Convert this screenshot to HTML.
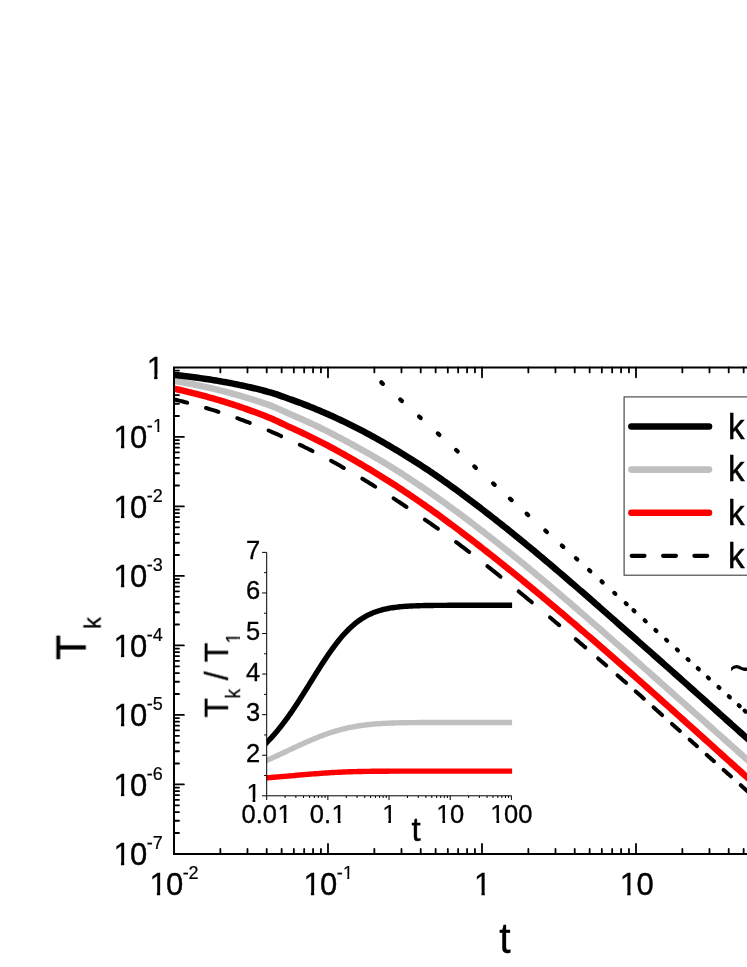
<!DOCTYPE html>
<html><head><meta charset="utf-8"><title>T_k vs t</title>
<style>html,body{margin:0;padding:0;background:#fff;width:747px;height:967px;overflow:hidden;}svg{display:block;font-family:'Liberation Sans', sans-serif;}.tx{filter:url(#gf);}</style></head>
<body><svg width="747" height="967" viewBox="0 0 747 967">
<rect width="747" height="967" fill="#fff"/>
<g>
<defs><filter id="gf" filterUnits="userSpaceOnUse" x="0" y="0" width="747" height="967" color-interpolation-filters="sRGB"><feOffset dx="0" dy="0"/></filter><clipPath id="cm"><rect x="175" y="360" width="600" height="500"/></clipPath><clipPath id="c1"><path d="M0,-85 H56 V-14 H34.8 V3 H24.2 V-14 H0 Z"/></clipPath><clipPath id="ci"><rect x="266.7" y="540" width="245.4" height="270"/></clipPath></defs>
<g stroke="#000" fill="none">
<path d="M174,854.90 V367.40 H747 M173,853.90 H747" stroke-width="2"/>
<path d="M220.36,367.40 v5.0 M220.36,853.90 v-5.0 M247.48,367.40 v5.0 M247.48,853.90 v-5.0 M266.72,367.40 v5.0 M266.72,853.90 v-5.0 M281.64,367.40 v5.0 M281.64,853.90 v-5.0 M293.84,367.40 v5.0 M293.84,853.90 v-5.0 M304.15,367.40 v5.0 M304.15,853.90 v-5.0 M313.08,367.40 v5.0 M313.08,853.90 v-5.0 M320.95,367.40 v5.0 M320.95,853.90 v-5.0 M328.00,367.40 v9.9 M328.00,853.90 v-9.9 M374.36,367.40 v5.0 M374.36,853.90 v-5.0 M401.48,367.40 v5.0 M401.48,853.90 v-5.0 M420.72,367.40 v5.0 M420.72,853.90 v-5.0 M435.64,367.40 v5.0 M435.64,853.90 v-5.0 M447.84,367.40 v5.0 M447.84,853.90 v-5.0 M458.15,367.40 v5.0 M458.15,853.90 v-5.0 M467.08,367.40 v5.0 M467.08,853.90 v-5.0 M474.95,367.40 v5.0 M474.95,853.90 v-5.0 M482.00,367.40 v9.9 M482.00,853.90 v-9.9 M528.36,367.40 v5.0 M528.36,853.90 v-5.0 M555.48,367.40 v5.0 M555.48,853.90 v-5.0 M574.72,367.40 v5.0 M574.72,853.90 v-5.0 M589.64,367.40 v5.0 M589.64,853.90 v-5.0 M601.84,367.40 v5.0 M601.84,853.90 v-5.0 M612.15,367.40 v5.0 M612.15,853.90 v-5.0 M621.08,367.40 v5.0 M621.08,853.90 v-5.0 M628.95,367.40 v5.0 M628.95,853.90 v-5.0 M636.00,367.40 v9.9 M636.00,853.90 v-9.9 M682.36,367.40 v5.0 M682.36,853.90 v-5.0 M709.48,367.40 v5.0 M709.48,853.90 v-5.0 M728.72,367.40 v5.0 M728.72,853.90 v-5.0 M743.64,367.40 v5.0 M743.64,853.90 v-5.0 M174,832.98 h5.0 M174,820.74 h5.0 M174,812.06 h5.0 M174,805.32 h5.0 M174,799.82 h5.0 M174,795.17 h5.0 M174,791.14 h5.0 M174,787.58 h5.0 M174,784.40 h9.9 M174,763.48 h5.0 M174,751.24 h5.0 M174,742.56 h5.0 M174,735.82 h5.0 M174,730.32 h5.0 M174,725.67 h5.0 M174,721.64 h5.0 M174,718.08 h5.0 M174,714.90 h9.9 M174,693.98 h5.0 M174,681.74 h5.0 M174,673.06 h5.0 M174,666.32 h5.0 M174,660.82 h5.0 M174,656.17 h5.0 M174,652.14 h5.0 M174,648.58 h5.0 M174,645.40 h9.9 M174,624.48 h5.0 M174,612.24 h5.0 M174,603.56 h5.0 M174,596.82 h5.0 M174,591.32 h5.0 M174,586.67 h5.0 M174,582.64 h5.0 M174,579.08 h5.0 M174,575.90 h9.9 M174,554.98 h5.0 M174,542.74 h5.0 M174,534.06 h5.0 M174,527.32 h5.0 M174,521.82 h5.0 M174,517.17 h5.0 M174,513.14 h5.0 M174,509.58 h5.0 M174,506.40 h9.9 M174,485.48 h5.0 M174,473.24 h5.0 M174,464.56 h5.0 M174,457.82 h5.0 M174,452.32 h5.0 M174,447.67 h5.0 M174,443.64 h5.0 M174,440.08 h5.0 M174,436.90 h9.9 M174,415.98 h5.0 M174,403.74 h5.0 M174,395.06 h5.0 M174,388.32 h5.0 M174,382.82 h5.0 M174,378.17 h5.0 M174,374.14 h5.0 M174,370.58 h5.0" stroke-width="1.8" stroke-linecap="round"/>
</g>
<g clip-path="url(#cm)" fill="none" stroke-linejoin="round">
<path d="M168.00,379.84 L170.00,380.17 L172.00,380.50 L174.00,380.84 L176.00,381.18 L178.00,381.53 L180.00,381.88 L182.00,382.24 L184.00,382.61 L186.00,382.98 L188.00,383.36 L190.00,383.75 L192.00,384.14 L194.00,384.54 L196.00,384.95 L198.00,385.36 L200.00,385.78 L202.00,386.21 L204.00,386.64 L206.00,387.08 L208.00,387.53 L210.00,387.99 L212.00,388.45 L214.00,388.92 L216.00,389.40 L218.00,389.88 L220.00,390.38 L222.00,390.88 L224.00,391.39 L226.00,391.90 L228.00,392.43 L230.00,392.96 L232.00,393.50 L234.00,394.05 L236.00,394.60 L238.00,395.17 L240.00,395.74 L242.00,396.33 L244.00,396.92 L246.00,397.51 L248.00,398.12 L250.00,398.74 L252.00,399.36 L254.00,400.00 L256.00,400.64 L258.00,401.29 L260.00,401.95 L262.00,402.62 L264.00,403.30 L266.00,403.99 L268.00,404.68 L270.00,405.39 L272.00,406.13 L274.00,406.93 L276.00,407.77 L278.00,408.65 L280.00,409.56 L282.00,410.47 L284.00,411.39 L286.00,412.31 L288.00,413.20 L290.00,414.07 L292.00,414.92 L294.00,415.78 L296.00,416.65 L298.00,417.53 L300.00,418.41 L302.00,419.31 L304.00,420.21 L306.00,421.12 L308.00,422.04 L310.00,422.97 L312.00,423.91 L314.00,424.85 L316.00,425.80 L318.00,426.77 L320.00,427.74 L322.00,428.71 L324.00,429.70 L326.00,430.70 L328.00,431.70 L330.00,432.71 L332.00,433.73 L334.00,434.75 L336.00,435.79 L338.00,436.83 L340.00,437.88 L342.00,438.94 L344.00,440.00 L346.00,441.08 L348.00,442.16 L350.00,443.25 L352.00,444.34 L354.00,445.44 L356.00,446.54 L358.00,447.65 L360.00,448.76 L362.00,449.87 L364.00,450.99 L366.00,452.12 L368.00,453.26 L370.00,454.40 L372.00,455.55 L374.00,456.70 L376.00,457.87 L378.00,459.04 L380.00,460.22 L382.00,461.41 L384.00,462.61 L386.00,463.82 L388.00,465.05 L390.00,466.28 L392.00,467.52 L394.00,468.77 L396.00,470.03 L398.00,471.29 L400.00,472.56 L402.00,473.84 L404.00,475.13 L406.00,476.42 L408.00,477.72 L410.00,479.03 L412.00,480.35 L414.00,481.67 L416.00,483.00 L418.00,484.34 L420.00,485.69 L422.00,487.05 L424.00,488.41 L426.00,489.78 L428.00,491.16 L430.00,492.54 L432.00,493.94 L434.00,495.34 L436.00,496.75 L438.00,498.17 L440.00,499.59 L442.00,501.03 L444.00,502.47 L446.00,503.91 L448.00,505.36 L450.00,506.82 L452.00,508.28 L454.00,509.75 L456.00,511.22 L458.00,512.70 L460.00,514.19 L462.00,515.68 L464.00,517.18 L466.00,518.68 L468.00,520.18 L470.00,521.70 L472.00,523.22 L474.00,524.74 L476.00,526.27 L478.00,527.80 L480.00,529.34 L482.00,530.88 L484.00,532.43 L486.00,533.98 L488.00,535.54 L490.00,537.10 L492.00,538.67 L494.00,540.24 L496.00,541.82 L498.00,543.40 L500.00,544.99 L502.00,546.58 L504.00,548.17 L506.00,549.77 L508.00,551.37 L510.00,552.98 L512.00,554.59 L514.00,556.21 L516.00,557.83 L518.00,559.45 L520.00,561.08 L522.00,562.71 L524.00,564.35 L526.00,565.99 L528.00,567.63 L530.00,569.28 L532.00,570.93 L534.00,572.59 L536.00,574.25 L538.00,575.91 L540.00,577.58 L542.00,579.26 L544.00,580.93 L546.00,582.61 L548.00,584.30 L550.00,585.98 L552.00,587.68 L554.00,589.37 L556.00,591.07 L558.00,592.77 L560.00,594.47 L562.00,596.18 L564.00,597.89 L566.00,599.60 L568.00,601.32 L570.00,603.04 L572.00,604.76 L574.00,606.48 L576.00,608.21 L578.00,609.94 L580.00,611.67 L582.00,613.40 L584.00,615.13 L586.00,616.87 L588.00,618.61 L590.00,620.35 L592.00,622.09 L594.00,623.83 L596.00,625.58 L598.00,627.33 L600.00,629.07 L602.00,630.82 L604.00,632.58 L606.00,634.33 L608.00,636.08 L610.00,637.83 L612.00,639.59 L614.00,641.35 L616.00,643.10 L618.00,644.86 L620.00,646.62 L622.00,648.38 L624.00,650.14 L626.00,651.90 L628.00,653.67 L630.00,655.43 L632.00,657.20 L634.00,658.97 L636.00,660.74 L638.00,662.52 L640.00,664.29 L642.00,666.07 L644.00,667.84 L646.00,669.62 L648.00,671.40 L650.00,673.18 L652.00,674.96 L654.00,676.74 L656.00,678.52 L658.00,680.30 L660.00,682.08 L662.00,683.86 L664.00,685.64 L666.00,687.43 L668.00,689.21 L670.00,690.99 L672.00,692.77 L674.00,694.55 L676.00,696.33 L678.00,698.11 L680.00,699.89 L682.00,701.66 L684.00,703.44 L686.00,705.22 L688.00,706.99 L690.00,708.77 L692.00,710.54 L694.00,712.32 L696.00,714.09 L698.00,715.87 L700.00,717.64 L702.00,719.42 L704.00,721.19 L706.00,722.97 L708.00,724.75 L710.00,726.52 L712.00,728.30 L714.00,730.08 L716.00,731.86 L718.00,733.63 L720.00,735.41 L722.00,737.19 L724.00,738.97 L726.00,740.75 L728.00,742.53 L730.00,744.32 L732.00,746.10 L734.00,747.88 L736.00,749.67 L738.00,751.45 L740.00,753.24 L742.00,755.02 L744.00,756.81 L746.00,758.60 L748.00,760.39 L750.00,762.18 L752.00,763.97 L754.00,765.76 L756.00,767.55 L758.00,769.34" stroke="#c0c0c0" stroke-width="6.5"/>
<path d="M168.00,387.37 L170.00,387.79 L172.00,388.21 L174.00,388.65 L176.00,389.08 L178.00,389.53 L180.00,389.98 L182.00,390.44 L184.00,390.91 L186.00,391.38 L188.00,391.86 L190.00,392.34 L192.00,392.84 L194.00,393.34 L196.00,393.84 L198.00,394.36 L200.00,394.88 L202.00,395.40 L204.00,395.94 L206.00,396.48 L208.00,397.03 L210.00,397.59 L212.00,398.15 L214.00,398.72 L216.00,399.30 L218.00,399.89 L220.00,400.48 L222.00,401.09 L224.00,401.70 L226.00,402.31 L228.00,402.94 L230.00,403.57 L232.00,404.21 L234.00,404.86 L236.00,405.52 L238.00,406.19 L240.00,406.86 L242.00,407.54 L244.00,408.23 L246.00,408.93 L248.00,409.64 L250.00,410.35 L252.00,411.08 L254.00,411.81 L256.00,412.55 L258.00,413.30 L260.00,414.05 L262.00,414.82 L264.00,415.59 L266.00,416.37 L268.00,417.17 L270.00,417.97 L272.00,418.80 L274.00,419.67 L276.00,420.59 L278.00,421.53 L280.00,422.49 L282.00,423.46 L284.00,424.43 L286.00,425.39 L288.00,426.33 L290.00,427.24 L292.00,428.13 L294.00,429.04 L296.00,429.95 L298.00,430.87 L300.00,431.80 L302.00,432.74 L304.00,433.69 L306.00,434.64 L308.00,435.61 L310.00,436.58 L312.00,437.56 L314.00,438.55 L316.00,439.55 L318.00,440.56 L320.00,441.58 L322.00,442.60 L324.00,443.64 L326.00,444.68 L328.00,445.73 L330.00,446.79 L332.00,447.86 L334.00,448.94 L336.00,450.02 L338.00,451.11 L340.00,452.22 L342.00,453.33 L344.00,454.45 L346.00,455.57 L348.00,456.71 L350.00,457.85 L352.00,459.00 L354.00,460.15 L356.00,461.31 L358.00,462.47 L360.00,463.64 L362.00,464.81 L364.00,465.99 L366.00,467.18 L368.00,468.37 L370.00,469.57 L372.00,470.77 L374.00,471.98 L376.00,473.20 L378.00,474.43 L380.00,475.66 L382.00,476.91 L384.00,478.16 L386.00,479.42 L388.00,480.68 L390.00,481.96 L392.00,483.25 L394.00,484.54 L396.00,485.84 L398.00,487.14 L400.00,488.46 L402.00,489.77 L404.00,491.10 L406.00,492.43 L408.00,493.77 L410.00,495.11 L412.00,496.46 L414.00,497.82 L416.00,499.19 L418.00,500.56 L420.00,501.94 L422.00,503.33 L424.00,504.72 L426.00,506.13 L428.00,507.54 L430.00,508.95 L432.00,510.38 L434.00,511.81 L436.00,513.25 L438.00,514.70 L440.00,516.15 L442.00,517.62 L444.00,519.09 L446.00,520.56 L448.00,522.04 L450.00,523.52 L452.00,525.01 L454.00,526.51 L456.00,528.01 L458.00,529.51 L460.00,531.02 L462.00,532.54 L464.00,534.06 L466.00,535.58 L468.00,537.11 L470.00,538.65 L472.00,540.19 L474.00,541.73 L476.00,543.28 L478.00,544.83 L480.00,546.39 L482.00,547.95 L484.00,549.51 L486.00,551.08 L488.00,552.66 L490.00,554.23 L492.00,555.81 L494.00,557.40 L496.00,558.99 L498.00,560.58 L500.00,562.18 L502.00,563.78 L504.00,565.39 L506.00,567.00 L508.00,568.61 L510.00,570.22 L512.00,571.84 L514.00,573.47 L516.00,575.09 L518.00,576.72 L520.00,578.36 L522.00,579.99 L524.00,581.63 L526.00,583.27 L528.00,584.92 L530.00,586.57 L532.00,588.22 L534.00,589.87 L536.00,591.53 L538.00,593.19 L540.00,594.86 L542.00,596.52 L544.00,598.19 L546.00,599.87 L548.00,601.54 L550.00,603.22 L552.00,604.90 L554.00,606.59 L556.00,608.28 L558.00,609.97 L560.00,611.66 L562.00,613.35 L564.00,615.05 L566.00,616.75 L568.00,618.45 L570.00,620.16 L572.00,621.87 L574.00,623.57 L576.00,625.29 L578.00,627.00 L580.00,628.72 L582.00,630.43 L584.00,632.16 L586.00,633.88 L588.00,635.60 L590.00,637.33 L592.00,639.06 L594.00,640.79 L596.00,642.52 L598.00,644.25 L600.00,645.99 L602.00,647.73 L604.00,649.47 L606.00,651.21 L608.00,652.95 L610.00,654.70 L612.00,656.44 L614.00,658.19 L616.00,659.94 L618.00,661.69 L620.00,663.45 L622.00,665.20 L624.00,666.96 L626.00,668.72 L628.00,670.48 L630.00,672.25 L632.00,674.02 L634.00,675.79 L636.00,677.56 L638.00,679.33 L640.00,681.11 L642.00,682.89 L644.00,684.67 L646.00,686.45 L648.00,688.24 L650.00,690.02 L652.00,691.81 L654.00,693.60 L656.00,695.39 L658.00,697.18 L660.00,698.97 L662.00,700.76 L664.00,702.55 L666.00,704.35 L668.00,706.14 L670.00,707.94 L672.00,709.73 L674.00,711.53 L676.00,713.32 L678.00,715.12 L680.00,716.92 L682.00,718.71 L684.00,720.51 L686.00,722.30 L688.00,724.10 L690.00,725.89 L692.00,727.69 L694.00,729.49 L696.00,731.29 L698.00,733.08 L700.00,734.88 L702.00,736.69 L704.00,738.49 L706.00,740.29 L708.00,742.09 L710.00,743.89 L712.00,745.70 L714.00,747.50 L716.00,749.30 L718.00,751.11 L720.00,752.91 L722.00,754.72 L724.00,756.52 L726.00,758.33 L728.00,760.13 L730.00,761.93 L732.00,763.74 L734.00,765.54 L736.00,767.34 L738.00,769.15 L740.00,770.95 L742.00,772.75 L744.00,774.55 L746.00,776.35 L748.00,778.15 L750.00,779.95 L752.00,781.75 L754.00,783.55 L756.00,785.36 L758.00,787.16" stroke="#ff0000" stroke-width="6.5"/>
<path d="M168.00,374.29 L170.00,374.49 L172.00,374.70 L174.00,374.91 L176.00,375.12 L178.00,375.34 L180.00,375.57 L182.00,375.80 L184.00,376.03 L186.00,376.27 L188.00,376.52 L190.00,376.77 L192.00,377.02 L194.00,377.28 L196.00,377.55 L198.00,377.82 L200.00,378.10 L202.00,378.38 L204.00,378.67 L206.00,378.97 L208.00,379.27 L210.00,379.58 L212.00,379.90 L214.00,380.22 L216.00,380.55 L218.00,380.88 L220.00,381.23 L222.00,381.58 L224.00,381.93 L226.00,382.30 L228.00,382.67 L230.00,383.05 L232.00,383.43 L234.00,383.83 L236.00,384.23 L238.00,384.64 L240.00,385.06 L242.00,385.48 L244.00,385.92 L246.00,386.36 L248.00,386.81 L250.00,387.27 L252.00,387.74 L254.00,388.22 L256.00,388.70 L258.00,389.20 L260.00,389.70 L262.00,390.21 L264.00,390.73 L266.00,391.26 L268.00,391.81 L270.00,392.36 L272.00,392.93 L274.00,393.55 L276.00,394.21 L278.00,394.89 L280.00,395.60 L282.00,396.32 L284.00,397.05 L286.00,397.77 L288.00,398.50 L290.00,399.20 L292.00,399.91 L294.00,400.62 L296.00,401.35 L298.00,402.08 L300.00,402.82 L302.00,403.58 L304.00,404.34 L306.00,405.12 L308.00,405.90 L310.00,406.69 L312.00,407.50 L314.00,408.31 L316.00,409.14 L318.00,409.97 L320.00,410.81 L322.00,411.66 L324.00,412.53 L326.00,413.40 L328.00,414.28 L330.00,415.17 L332.00,416.07 L334.00,416.98 L336.00,417.90 L338.00,418.83 L340.00,419.77 L342.00,420.72 L344.00,421.67 L346.00,422.64 L348.00,423.61 L350.00,424.59 L352.00,425.59 L354.00,426.59 L356.00,427.60 L358.00,428.62 L360.00,429.65 L362.00,430.69 L364.00,431.74 L366.00,432.80 L368.00,433.87 L370.00,434.95 L372.00,436.04 L374.00,437.14 L376.00,438.25 L378.00,439.38 L380.00,440.51 L382.00,441.65 L384.00,442.80 L386.00,443.96 L388.00,445.13 L390.00,446.30 L392.00,447.49 L394.00,448.69 L396.00,449.88 L398.00,451.09 L400.00,452.30 L402.00,453.52 L404.00,454.75 L406.00,455.98 L408.00,457.22 L410.00,458.47 L412.00,459.72 L414.00,460.99 L416.00,462.26 L418.00,463.54 L420.00,464.83 L422.00,466.13 L424.00,467.44 L426.00,468.76 L428.00,470.08 L430.00,471.42 L432.00,472.77 L434.00,474.13 L436.00,475.50 L438.00,476.88 L440.00,478.27 L442.00,479.67 L444.00,481.08 L446.00,482.50 L448.00,483.93 L450.00,485.36 L452.00,486.80 L454.00,488.25 L456.00,489.70 L458.00,491.17 L460.00,492.63 L462.00,494.11 L464.00,495.59 L466.00,497.08 L468.00,498.58 L470.00,500.08 L472.00,501.59 L474.00,503.10 L476.00,504.63 L478.00,506.15 L480.00,507.68 L482.00,509.22 L484.00,510.77 L486.00,512.31 L488.00,513.87 L490.00,515.42 L492.00,516.99 L494.00,518.55 L496.00,520.13 L498.00,521.70 L500.00,523.28 L502.00,524.87 L504.00,526.46 L506.00,528.06 L508.00,529.66 L510.00,531.26 L512.00,532.87 L514.00,534.49 L516.00,536.10 L518.00,537.73 L520.00,539.36 L522.00,540.99 L524.00,542.62 L526.00,544.26 L528.00,545.91 L530.00,547.56 L532.00,549.21 L534.00,550.87 L536.00,552.54 L538.00,554.21 L540.00,555.88 L542.00,557.56 L544.00,559.24 L546.00,560.93 L548.00,562.62 L550.00,564.32 L552.00,566.02 L554.00,567.72 L556.00,569.43 L558.00,571.13 L560.00,572.85 L562.00,574.56 L564.00,576.28 L566.00,578.00 L568.00,579.72 L570.00,581.45 L572.00,583.17 L574.00,584.90 L576.00,586.63 L578.00,588.36 L580.00,590.10 L582.00,591.83 L584.00,593.57 L586.00,595.31 L588.00,597.06 L590.00,598.81 L592.00,600.56 L594.00,602.31 L596.00,604.07 L598.00,605.82 L600.00,607.58 L602.00,609.34 L604.00,611.10 L606.00,612.86 L608.00,614.63 L610.00,616.39 L612.00,618.15 L614.00,619.91 L616.00,621.68 L618.00,623.44 L620.00,625.20 L622.00,626.96 L624.00,628.72 L626.00,630.48 L628.00,632.24 L630.00,634.01 L632.00,635.77 L634.00,637.54 L636.00,639.30 L638.00,641.07 L640.00,642.83 L642.00,644.60 L644.00,646.37 L646.00,648.13 L648.00,649.90 L650.00,651.67 L652.00,653.44 L654.00,655.21 L656.00,656.98 L658.00,658.75 L660.00,660.53 L662.00,662.30 L664.00,664.07 L666.00,665.85 L668.00,667.62 L670.00,669.40 L672.00,671.17 L674.00,672.95 L676.00,674.73 L678.00,676.51 L680.00,678.29 L682.00,680.07 L684.00,681.85 L686.00,683.63 L688.00,685.42 L690.00,687.20 L692.00,688.99 L694.00,690.78 L696.00,692.56 L698.00,694.35 L700.00,696.14 L702.00,697.93 L704.00,699.73 L706.00,701.52 L708.00,703.31 L710.00,705.11 L712.00,706.90 L714.00,708.69 L716.00,710.49 L718.00,712.28 L720.00,714.08 L722.00,715.87 L724.00,717.66 L726.00,719.46 L728.00,721.25 L730.00,723.04 L732.00,724.83 L734.00,726.62 L736.00,728.41 L738.00,730.20 L740.00,731.99 L742.00,733.77 L744.00,735.56 L746.00,737.34 L748.00,739.12 L750.00,740.90 L752.00,742.68 L754.00,744.47 L756.00,746.25 L758.00,748.03" stroke="#000" stroke-width="6.5"/>
<path d="M174.74,399.53 L176.51,399.97 L178.29,400.40 L180.06,400.85 L181.84,401.30 L183.61,401.75 L185.39,402.21 L187.16,402.68" stroke="#000" stroke-width="4.0" stroke-linecap="round"/>
<path d="M206.01,407.97 L207.79,408.51 L209.58,409.05 L211.36,409.59 L213.14,410.14 L214.92,410.70 L216.71,411.27 L218.49,411.84" stroke="#000" stroke-width="4.0" stroke-linecap="round"/>
<path d="M237.27,418.22 L239.07,418.87 L240.86,419.52 L242.65,420.18 L244.45,420.85 L246.24,421.52 L248.03,422.20 L249.83,422.89" stroke="#000" stroke-width="4.0" stroke-linecap="round"/>
<path d="M268.53,430.51 L270.34,431.28 L272.14,432.06 L273.95,432.85 L275.75,433.65 L277.56,434.45 L279.36,435.25 L281.17,436.06" stroke="#000" stroke-width="4.0" stroke-linecap="round"/>
<path d="M299.79,444.77 L301.61,445.65 L303.43,446.54 L305.24,447.43 L307.06,448.33 L308.87,449.24 L310.69,450.15 L312.51,451.07" stroke="#000" stroke-width="4.0" stroke-linecap="round"/>
<path d="M331.05,460.81 L332.88,461.81 L334.71,462.81 L336.54,463.82 L338.36,464.84 L340.19,465.86 L342.02,466.89 L343.85,467.92" stroke="#000" stroke-width="4.0" stroke-linecap="round"/>
<path d="M362.31,478.71 L364.15,479.82 L365.99,480.94 L367.83,482.06 L369.67,483.19 L371.51,484.32 L373.35,485.47 L375.19,486.61" stroke="#000" stroke-width="4.0" stroke-linecap="round"/>
<path d="M393.56,498.37 L395.42,499.59 L397.27,500.81 L399.12,502.04 L400.98,503.28 L402.83,504.52 L404.68,505.76 L406.54,507.00" stroke="#000" stroke-width="4.0" stroke-linecap="round"/>
<path d="M424.83,519.53 L426.70,520.83 L428.56,522.14 L430.42,523.45 L432.28,524.76 L434.14,526.08 L436.00,527.41 L437.87,528.74" stroke="#000" stroke-width="4.0" stroke-linecap="round"/>
<path d="M456.09,542.06 L457.97,543.46 L459.84,544.87 L461.71,546.28 L463.59,547.70 L465.46,549.13 L467.33,550.56 L469.21,552.00" stroke="#000" stroke-width="4.0" stroke-linecap="round"/>
<path d="M487.36,566.17 L489.24,567.66 L491.13,569.15 L493.01,570.65 L494.89,572.16 L496.77,573.67 L498.66,575.18 L500.54,576.69" stroke="#000" stroke-width="4.0" stroke-linecap="round"/>
<path d="M518.64,591.41 L520.53,592.96 L522.42,594.52 L524.31,596.07 L526.19,597.63 L528.08,599.18 L529.97,600.74 L531.86,602.30" stroke="#000" stroke-width="4.0" stroke-linecap="round"/>
<path d="M550.03,617.46 L551.35,618.56 L552.67,619.67 L553.99,620.78 L555.31,621.90 L556.63,623.01 L557.95,624.12 L559.27,625.24" stroke="#000" stroke-width="4.0" stroke-linecap="round"/>
<path d="M575.72,639.20 L577.09,640.37 L578.45,641.54 L579.82,642.71 L581.18,643.88 L582.55,645.05 L583.91,646.22 L585.28,647.39" stroke="#000" stroke-width="4.0" stroke-linecap="round"/>
<path d="M598.11,658.45 L599.28,659.46 L600.45,660.48 L601.62,661.49 L602.78,662.50 L603.95,663.52 L605.12,664.53 L606.29,665.55" stroke="#000" stroke-width="4.0" stroke-linecap="round"/>
<path d="M617.50,675.33 L618.73,676.40 L619.96,677.48 L621.19,678.55 L622.41,679.63 L623.64,680.71 L624.87,681.79 L626.10,682.87" stroke="#000" stroke-width="4.0" stroke-linecap="round"/>
<path d="M635.69,691.38 L636.87,692.42 L638.04,693.47 L639.21,694.51 L640.39,695.56 L641.56,696.61 L642.73,697.66 L643.91,698.71" stroke="#000" stroke-width="4.0" stroke-linecap="round"/>
<path d="M653.49,707.29 L654.72,708.40 L655.95,709.50 L657.18,710.61 L658.42,711.72 L659.65,712.82 L660.88,713.93 L662.11,715.04" stroke="#000" stroke-width="4.0" stroke-linecap="round"/>
<path d="M671.99,723.91 L673.12,724.92 L674.25,725.94 L675.38,726.95 L676.52,727.96 L677.65,728.98 L678.78,729.99 L679.91,731.00" stroke="#000" stroke-width="4.0" stroke-linecap="round"/>
<path d="M689.60,739.64 L690.65,740.58 L691.71,741.52 L692.77,742.46 L693.83,743.40 L694.89,744.34 L695.95,745.28 L697.00,746.22" stroke="#000" stroke-width="4.0" stroke-linecap="round"/>
<path d="M706.69,754.83 L707.72,755.75 L708.75,756.67 L709.78,757.58 L710.82,758.50 L711.85,759.42 L712.88,760.33 L713.91,761.25" stroke="#000" stroke-width="4.0" stroke-linecap="round"/>
<path d="M723.59,769.88 L724.65,770.82 L725.71,771.77 L726.77,772.71 L727.83,773.66 L728.89,774.61 L729.95,775.55 L731.01,776.50" stroke="#000" stroke-width="4.0" stroke-linecap="round"/>
<path d="M740.79,785.24 L741.89,786.23 L743.00,787.22 L744.10,788.21 L745.20,789.20 L746.30,790.19 L747.41,791.18 L748.51,792.17" stroke="#000" stroke-width="4.0" stroke-linecap="round"/>
<path d="M381.32,382.40 L382.88,383.80" stroke="#000" stroke-width="4.3" stroke-linecap="round"/>
<path d="M400.32,399.56 L401.88,400.97" stroke="#000" stroke-width="4.3" stroke-linecap="round"/>
<path d="M419.12,416.55 L420.68,417.96" stroke="#000" stroke-width="4.3" stroke-linecap="round"/>
<path d="M437.82,433.44 L439.38,434.85" stroke="#000" stroke-width="4.3" stroke-linecap="round"/>
<path d="M456.12,449.98 L457.68,451.39" stroke="#000" stroke-width="4.3" stroke-linecap="round"/>
<path d="M474.32,466.42 L475.88,467.83" stroke="#000" stroke-width="4.3" stroke-linecap="round"/>
<path d="M493.12,483.41 L494.68,484.82" stroke="#000" stroke-width="4.3" stroke-linecap="round"/>
<path d="M510.02,498.68 L511.58,500.09" stroke="#000" stroke-width="4.3" stroke-linecap="round"/>
<path d="M526.62,513.67 L528.18,515.08" stroke="#000" stroke-width="4.3" stroke-linecap="round"/>
<path d="M545.32,530.57 L546.88,531.98" stroke="#000" stroke-width="4.3" stroke-linecap="round"/>
<path d="M561.88,545.53 L563.32,546.83" stroke="#000" stroke-width="4.3" stroke-linecap="round"/>
<path d="M575.95,558.24 L577.25,559.42" stroke="#000" stroke-width="4.3" stroke-linecap="round"/>
<path d="M589.11,570.13 L590.29,571.20" stroke="#000" stroke-width="4.3" stroke-linecap="round"/>
<path d="M601.57,581.39 L602.63,582.35" stroke="#000" stroke-width="4.3" stroke-linecap="round"/>
<path d="M614.33,592.92 L615.27,593.77" stroke="#000" stroke-width="4.3" stroke-linecap="round"/>
<path d="M625.75,603.24 L626.65,604.05" stroke="#000" stroke-width="4.3" stroke-linecap="round"/>
<path d="M633.55,610.29 L634.45,611.10" stroke="#000" stroke-width="4.3" stroke-linecap="round"/>
<path d="M644.75,620.40 L645.65,621.22" stroke="#000" stroke-width="4.3" stroke-linecap="round"/>
<path d="M655.45,630.07 L656.35,630.88" stroke="#000" stroke-width="4.3" stroke-linecap="round"/>
<path d="M666.15,639.74 L667.05,640.55" stroke="#000" stroke-width="4.3" stroke-linecap="round"/>
<path d="M676.95,649.50 L677.85,650.31" stroke="#000" stroke-width="4.3" stroke-linecap="round"/>
<path d="M687.65,659.16 L688.55,659.98" stroke="#000" stroke-width="4.3" stroke-linecap="round"/>
<path d="M697.85,668.38 L698.75,669.19" stroke="#000" stroke-width="4.3" stroke-linecap="round"/>
<path d="M707.95,677.51 L708.85,678.32" stroke="#000" stroke-width="4.3" stroke-linecap="round"/>
<path d="M718.55,687.08 L719.45,687.90" stroke="#000" stroke-width="4.3" stroke-linecap="round"/>
<path d="M728.85,696.39 L729.75,697.20" stroke="#000" stroke-width="4.3" stroke-linecap="round"/>
<path d="M738.75,705.33 L739.65,706.15" stroke="#000" stroke-width="4.3" stroke-linecap="round"/>
<path d="M744.75,710.75 L745.65,711.57" stroke="#000" stroke-width="4.3" stroke-linecap="round"/>
</g>
<g fill="#000" class="tx">
<g transform="translate(146.68,378.70) scale(0.3100,0.3208)"><text font-size="100" clip-path="url(#c1)" stroke="#000" stroke-width="0.8">1</text></g>
<g transform="translate(113.45,448.20) scale(0.3100,0.3208)"><text font-size="100" clip-path="url(#c1)" stroke="#000" stroke-width="0.8">1</text></g><text transform="translate(130.06,448.20) scale(1,1.035)" font-size="31" stroke="#000" stroke-width="0.40">0</text><text transform="translate(146.70,432.20) scale(1,1.035)" font-size="18" stroke="#000" stroke-width="0.23">-</text><g transform="translate(153.05,432.20) scale(0.1800,0.1863)"><text font-size="100" clip-path="url(#c1)" stroke="#000" stroke-width="0.8">1</text></g>
<g transform="translate(113.45,517.70) scale(0.3100,0.3208)"><text font-size="100" clip-path="url(#c1)" stroke="#000" stroke-width="0.8">1</text></g><text transform="translate(130.06,517.70) scale(1,1.035)" font-size="31" stroke="#000" stroke-width="0.40">0</text><text transform="translate(146.70,501.70) scale(1,1.035)" font-size="18" stroke="#000" stroke-width="0.23">-2</text>
<g transform="translate(113.45,587.20) scale(0.3100,0.3208)"><text font-size="100" clip-path="url(#c1)" stroke="#000" stroke-width="0.8">1</text></g><text transform="translate(130.06,587.20) scale(1,1.035)" font-size="31" stroke="#000" stroke-width="0.40">0</text><text transform="translate(146.70,571.20) scale(1,1.035)" font-size="18" stroke="#000" stroke-width="0.23">-3</text>
<g transform="translate(113.45,656.70) scale(0.3100,0.3208)"><text font-size="100" clip-path="url(#c1)" stroke="#000" stroke-width="0.8">1</text></g><text transform="translate(130.06,656.70) scale(1,1.035)" font-size="31" stroke="#000" stroke-width="0.40">0</text><text transform="translate(146.70,640.70) scale(1,1.035)" font-size="18" stroke="#000" stroke-width="0.23">-4</text>
<g transform="translate(113.45,726.20) scale(0.3100,0.3208)"><text font-size="100" clip-path="url(#c1)" stroke="#000" stroke-width="0.8">1</text></g><text transform="translate(130.06,726.20) scale(1,1.035)" font-size="31" stroke="#000" stroke-width="0.40">0</text><text transform="translate(146.70,710.20) scale(1,1.035)" font-size="18" stroke="#000" stroke-width="0.23">-5</text>
<g transform="translate(113.45,795.70) scale(0.3100,0.3208)"><text font-size="100" clip-path="url(#c1)" stroke="#000" stroke-width="0.8">1</text></g><text transform="translate(130.06,795.70) scale(1,1.035)" font-size="31" stroke="#000" stroke-width="0.40">0</text><text transform="translate(146.70,779.70) scale(1,1.035)" font-size="18" stroke="#000" stroke-width="0.23">-6</text>
<g transform="translate(113.45,865.20) scale(0.3100,0.3208)"><text font-size="100" clip-path="url(#c1)" stroke="#000" stroke-width="0.8">1</text></g><text transform="translate(130.06,865.20) scale(1,1.035)" font-size="31" stroke="#000" stroke-width="0.40">0</text><text transform="translate(146.70,849.20) scale(1,1.035)" font-size="18" stroke="#000" stroke-width="0.23">-7</text>
<g transform="translate(149.38,895.00) scale(0.3100,0.3208)"><text font-size="100" clip-path="url(#c1)" stroke="#000" stroke-width="0.8">1</text></g><text transform="translate(166.00,895.00) scale(1,1.035)" font-size="31" stroke="#000" stroke-width="0.40">0</text><text transform="translate(182.63,879.00) scale(1,1.035)" font-size="18" stroke="#000" stroke-width="0.23">-2</text>
<g transform="translate(303.38,895.00) scale(0.3100,0.3208)"><text font-size="100" clip-path="url(#c1)" stroke="#000" stroke-width="0.8">1</text></g><text transform="translate(320.00,895.00) scale(1,1.035)" font-size="31" stroke="#000" stroke-width="0.40">0</text><text transform="translate(336.63,879.00) scale(1,1.035)" font-size="18" stroke="#000" stroke-width="0.23">-</text><g transform="translate(342.99,879.00) scale(0.1800,0.1863)"><text font-size="100" clip-path="url(#c1)" stroke="#000" stroke-width="0.8">1</text></g>
<g transform="translate(474.00,895.00) scale(0.3100,0.3208)"><text font-size="100" clip-path="url(#c1)" stroke="#000" stroke-width="0.8">1</text></g>
<g transform="translate(619.78,895.00) scale(0.3100,0.3208)"><text font-size="100" clip-path="url(#c1)" stroke="#000" stroke-width="0.8">1</text></g><text transform="translate(636.40,895.00) scale(1,1.035)" font-size="31" stroke="#000" stroke-width="0.40">0</text>
<text transform="translate(499.30,952.80) scale(1,1.035)" font-size="41" stroke="#000" stroke-width="0.33">t</text>
<g transform="translate(85.6,659.9) rotate(-90)"><text transform="translate(0.00,0.00) scale(1,1.035)" font-size="41" stroke="#000" stroke-width="0.33">T</text><text transform="translate(30.90,15.30) scale(1,1.035)" font-size="23.5" stroke="#000" stroke-width="0.31">k</text></g>
</g>
<rect x="624.1" y="396.9" width="140" height="178.3" fill="#fff" stroke="#444" stroke-width="1.15"/>
<path d="M631.4,426.5 H709" stroke="#000" stroke-width="6.6" stroke-linecap="round" fill="none"/>
<path d="M631.4,469.6 H709" stroke="#c0c0c0" stroke-width="6.6" stroke-linecap="round" fill="none"/>
<path d="M631.4,512.7 H709" stroke="#ff0000" stroke-width="6.6" stroke-linecap="round" fill="none"/>
<path d="M631.7,555.8 H644.5" stroke="#000" stroke-width="4.2" stroke-linecap="round" fill="none"/>
<path d="M663.1,555.8 H675.9" stroke="#000" stroke-width="4.2" stroke-linecap="round" fill="none"/>
<path d="M694.4,555.8 H707.1999999999999" stroke="#000" stroke-width="4.2" stroke-linecap="round" fill="none"/>
<g fill="#000" class="tx">
<text transform="translate(728.10,438.70) scale(1,1.035)" font-size="33.2" stroke="#000" stroke-width="0.43">k</text>
<text transform="translate(728.10,481.40) scale(1,1.035)" font-size="33.2" stroke="#000" stroke-width="0.43">k</text>
<text transform="translate(728.10,524.50) scale(1,1.035)" font-size="33.2" stroke="#000" stroke-width="0.43">k</text>
<text transform="translate(728.10,567.70) scale(1,1.035)" font-size="33.2" stroke="#000" stroke-width="0.43">k</text>
<path d="M731.07,667.38 Q733.2,665.3 736.45,664.98 Q739.4,665.2 741.82,666.96 Q744.3,667.9 748,667.5 V670.9 Q745.2,671.2 742.65,670.48 L737.69,668.41 Q735.6,668.0 733.55,669.03 L731.27,671.2 Z" fill="#000"/>
</g>
<g clip-path="url(#ci)" fill="none" stroke-width="5.4" stroke-linejoin="round">
<path d="M262.00,762.39 L263.50,761.75 L265.00,761.11 L266.50,760.45 L268.00,759.80 L269.50,759.13 L271.00,758.46 L272.50,757.78 L274.00,757.10 L275.50,756.42 L277.00,755.73 L278.50,755.03 L280.00,754.34 L281.50,753.64 L283.00,752.94 L284.50,752.23 L286.00,751.53 L287.50,750.82 L289.00,750.12 L290.50,749.41 L292.00,748.71 L293.50,748.00 L295.00,747.30 L296.50,746.61 L298.00,745.91 L299.50,745.22 L301.00,744.53 L302.50,743.85 L304.00,743.17 L305.50,742.50 L307.00,741.83 L308.50,741.18 L310.00,740.53 L311.50,739.88 L313.00,739.25 L314.50,738.63 L316.00,738.01 L317.50,737.41 L319.00,736.82 L320.50,736.23 L322.00,735.66 L323.50,735.11 L325.00,734.56 L326.50,734.03 L328.00,733.50 L329.50,733.00 L331.00,732.50 L332.50,732.02 L334.00,731.56 L335.50,731.10 L337.00,730.67 L338.50,730.24 L340.00,729.83 L341.50,729.44 L343.00,729.05 L344.50,728.69 L346.00,728.33 L347.50,727.99 L349.00,727.67 L350.50,727.36 L352.00,727.06 L353.50,726.78 L355.00,726.50 L356.50,726.25 L358.00,726.00 L359.50,725.77 L361.00,725.54 L362.50,725.33 L364.00,725.14 L365.50,724.95 L367.00,724.77 L368.50,724.60 L370.00,724.45 L371.50,724.30 L373.00,724.16 L374.50,724.03 L376.00,723.91 L377.50,723.80 L379.00,723.69 L380.50,723.59 L382.00,723.50 L383.50,723.41 L385.00,723.33 L386.50,723.26 L388.00,723.19 L389.50,723.13 L391.00,723.07 L392.50,723.02 L394.00,722.97 L395.50,722.92 L397.00,722.88 L398.50,722.84 L400.00,722.81 L401.50,722.78 L403.00,722.75 L404.50,722.72 L406.00,722.70 L407.50,722.67 L409.00,722.65 L410.50,722.63 L412.00,722.62 L413.50,722.60 L415.00,722.59 L416.50,722.58 L418.00,722.57 L419.50,722.56 L421.00,722.55 L422.50,722.54 L424.00,722.53 L425.50,722.52 L427.00,722.52 L428.50,722.51 L430.00,722.51 L431.50,722.50 L433.00,722.50 L434.50,722.50 L436.00,722.49 L437.50,722.49 L439.00,722.49 L440.50,722.49 L442.00,722.48 L443.50,722.48 L445.00,722.48 L446.50,722.48 L448.00,722.48 L449.50,722.48 L451.00,722.48 L452.50,722.48 L454.00,722.47 L455.50,722.47 L457.00,722.47 L458.50,722.47 L460.00,722.47 L461.50,722.47 L463.00,722.47 L464.50,722.47 L466.00,722.47 L467.50,722.47 L469.00,722.47 L470.50,722.47 L472.00,722.47 L473.50,722.47 L475.00,722.47 L476.50,722.47 L478.00,722.47 L479.50,722.47 L481.00,722.47 L482.50,722.47 L484.00,722.47 L485.50,722.47 L487.00,722.47 L488.50,722.47 L490.00,722.47 L491.50,722.47 L493.00,722.47 L494.50,722.47 L496.00,722.47 L497.50,722.47 L499.00,722.47 L500.50,722.47 L502.00,722.47 L503.50,722.47 L505.00,722.47 L506.50,722.47 L508.00,722.47 L509.50,722.47 L511.00,722.47 L512.50,722.47 L514.00,722.47 L515.50,722.47" stroke="#c0c0c0"/>
<path d="M262.00,778.15 L263.50,778.04 L265.00,777.93 L266.50,777.82 L268.00,777.70 L269.50,777.59 L271.00,777.47 L272.50,777.35 L274.00,777.23 L275.50,777.11 L277.00,776.99 L278.50,776.86 L280.00,776.74 L281.50,776.61 L283.00,776.49 L284.50,776.36 L286.00,776.23 L287.50,776.10 L289.00,775.97 L290.50,775.84 L292.00,775.71 L293.50,775.58 L295.00,775.44 L296.50,775.31 L298.00,775.18 L299.50,775.05 L301.00,774.92 L302.50,774.79 L304.00,774.67 L305.50,774.54 L307.00,774.41 L308.50,774.29 L310.00,774.16 L311.50,774.04 L313.00,773.92 L314.50,773.80 L316.00,773.69 L317.50,773.57 L319.00,773.46 L320.50,773.35 L322.00,773.24 L323.50,773.14 L325.00,773.04 L326.50,772.94 L328.00,772.84 L329.50,772.75 L331.00,772.66 L332.50,772.57 L334.00,772.49 L335.50,772.40 L337.00,772.33 L338.50,772.25 L340.00,772.18 L341.50,772.11 L343.00,772.04 L344.50,771.98 L346.00,771.92 L347.50,771.87 L349.00,771.81 L350.50,771.76 L352.00,771.71 L353.50,771.67 L355.00,771.63 L356.50,771.59 L358.00,771.55 L359.50,771.51 L361.00,771.48 L362.50,771.45 L364.00,771.42 L365.50,771.40 L367.00,771.37 L368.50,771.35 L370.00,771.33 L371.50,771.31 L373.00,771.29 L374.50,771.27 L376.00,771.26 L377.50,771.25 L379.00,771.23 L380.50,771.22 L382.00,771.21 L383.50,771.20 L385.00,771.19 L386.50,771.19 L388.00,771.18 L389.50,771.17 L391.00,771.17 L392.50,771.16 L394.00,771.16 L395.50,771.15 L397.00,771.15 L398.50,771.15 L400.00,771.14 L401.50,771.14 L403.00,771.14 L404.50,771.14 L406.00,771.14 L407.50,771.13 L409.00,771.13 L410.50,771.13 L412.00,771.13 L413.50,771.13 L415.00,771.13 L416.50,771.13 L418.00,771.13 L419.50,771.13 L421.00,771.13 L422.50,771.13 L424.00,771.13 L425.50,771.13 L427.00,771.12 L428.50,771.12 L430.00,771.12 L431.50,771.12 L433.00,771.12 L434.50,771.12 L436.00,771.12 L437.50,771.12 L439.00,771.12 L440.50,771.12 L442.00,771.12 L443.50,771.12 L445.00,771.12 L446.50,771.12 L448.00,771.12 L449.50,771.12 L451.00,771.12 L452.50,771.12 L454.00,771.12 L455.50,771.12 L457.00,771.12 L458.50,771.12 L460.00,771.12 L461.50,771.12 L463.00,771.12 L464.50,771.12 L466.00,771.12 L467.50,771.12 L469.00,771.12 L470.50,771.12 L472.00,771.12 L473.50,771.12 L475.00,771.12 L476.50,771.12 L478.00,771.12 L479.50,771.12 L481.00,771.12 L482.50,771.12 L484.00,771.12 L485.50,771.12 L487.00,771.12 L488.50,771.12 L490.00,771.12 L491.50,771.12 L493.00,771.12 L494.50,771.12 L496.00,771.12 L497.50,771.12 L499.00,771.12 L500.50,771.12 L502.00,771.12 L503.50,771.12 L505.00,771.12 L506.50,771.12 L508.00,771.12 L509.50,771.12 L511.00,771.12 L512.50,771.12 L514.00,771.12 L515.50,771.12" stroke="#ff0000"/>
<path d="M262.00,747.02 L263.50,745.63 L265.00,744.20 L266.50,742.72 L268.00,741.21 L269.50,739.64 L271.00,738.04 L272.50,736.39 L274.00,734.70 L275.50,732.97 L277.00,731.19 L278.50,729.38 L280.00,727.51 L281.50,725.61 L283.00,723.67 L284.50,721.68 L286.00,719.65 L287.50,717.59 L289.00,715.49 L290.50,713.35 L292.00,711.18 L293.50,708.98 L295.00,706.74 L296.50,704.48 L298.00,702.18 L299.50,699.87 L301.00,697.53 L302.50,695.17 L304.00,692.79 L305.50,690.40 L307.00,688.00 L308.50,685.59 L310.00,683.17 L311.50,680.76 L313.00,678.34 L314.50,675.93 L316.00,673.53 L317.50,671.14 L319.00,668.76 L320.50,666.40 L322.00,664.06 L323.50,661.75 L325.00,659.47 L326.50,657.22 L328.00,655.01 L329.50,652.83 L331.00,650.69 L332.50,648.60 L334.00,646.55 L335.50,644.55 L337.00,642.60 L338.50,640.71 L340.00,638.87 L341.50,637.08 L343.00,635.35 L344.50,633.68 L346.00,632.07 L347.50,630.52 L349.00,629.02 L350.50,627.59 L352.00,626.22 L353.50,624.91 L355.00,623.65 L356.50,622.46 L358.00,621.32 L359.50,620.25 L361.00,619.22 L362.50,618.25 L364.00,617.34 L365.50,616.47 L367.00,615.66 L368.50,614.89 L370.00,614.17 L371.50,613.50 L373.00,612.86 L374.50,612.27 L376.00,611.72 L377.50,611.21 L379.00,610.73 L380.50,610.28 L382.00,609.87 L383.50,609.49 L385.00,609.13 L386.50,608.80 L388.00,608.50 L389.50,608.22 L391.00,607.96 L392.50,607.72 L394.00,607.51 L395.50,607.30 L397.00,607.12 L398.50,606.95 L400.00,606.80 L401.50,606.66 L403.00,606.53 L404.50,606.41 L406.00,606.30 L407.50,606.21 L409.00,606.12 L410.50,606.04 L412.00,605.96 L413.50,605.89 L415.00,605.83 L416.50,605.78 L418.00,605.73 L419.50,605.68 L421.00,605.64 L422.50,605.61 L424.00,605.57 L425.50,605.54 L427.00,605.51 L428.50,605.49 L430.00,605.47 L431.50,605.45 L433.00,605.43 L434.50,605.41 L436.00,605.40 L437.50,605.39 L439.00,605.37 L440.50,605.36 L442.00,605.35 L443.50,605.34 L445.00,605.34 L446.50,605.33 L448.00,605.32 L449.50,605.32 L451.00,605.31 L452.50,605.31 L454.00,605.30 L455.50,605.30 L457.00,605.30 L458.50,605.30 L460.00,605.29 L461.50,605.29 L463.00,605.29 L464.50,605.29 L466.00,605.28 L467.50,605.28 L469.00,605.28 L470.50,605.28 L472.00,605.28 L473.50,605.28 L475.00,605.28 L476.50,605.28 L478.00,605.28 L479.50,605.28 L481.00,605.28 L482.50,605.27 L484.00,605.27 L485.50,605.27 L487.00,605.27 L488.50,605.27 L490.00,605.27 L491.50,605.27 L493.00,605.27 L494.50,605.27 L496.00,605.27 L497.50,605.27 L499.00,605.27 L500.50,605.27 L502.00,605.27 L503.50,605.27 L505.00,605.27 L506.50,605.27 L508.00,605.27 L509.50,605.27 L511.00,605.27 L512.50,605.27 L514.00,605.27 L515.50,605.27" stroke="#000"/>
</g>
<g stroke="#000" fill="none" stroke-width="1">
<path d="M266.7,552.38 V795.8 H511.6"/>
<path d="M266.7,795.80 h-4.6 M266.7,775.51 h-2.6 M266.7,755.23 h-4.6 M266.7,734.94 h-2.6 M266.7,714.66 h-4.6 M266.7,694.38 h-2.6 M266.7,674.09 h-4.6 M266.7,653.80 h-2.6 M266.7,633.52 h-4.6 M266.7,613.23 h-2.6 M266.7,592.95 h-4.6 M266.7,572.66 h-2.6 M266.7,552.38 h-4.6 M266.70,795.8 v4.2 M285.11,795.8 v2.2 M295.89,795.8 v2.2 M303.53,795.8 v2.2 M309.46,795.8 v2.2 M314.30,795.8 v2.2 M318.39,795.8 v2.2 M321.94,795.8 v2.2 M325.07,795.8 v2.2 M327.87,795.8 v4.2 M346.28,795.8 v2.2 M357.06,795.8 v2.2 M364.70,795.8 v2.2 M370.63,795.8 v2.2 M375.47,795.8 v2.2 M379.56,795.8 v2.2 M383.11,795.8 v2.2 M386.24,795.8 v2.2 M389.04,795.8 v4.2 M407.45,795.8 v2.2 M418.23,795.8 v2.2 M425.87,795.8 v2.2 M431.80,795.8 v2.2 M436.64,795.8 v2.2 M440.73,795.8 v2.2 M444.28,795.8 v2.2 M447.41,795.8 v2.2 M450.21,795.8 v4.2 M468.62,795.8 v2.2 M479.40,795.8 v2.2 M487.04,795.8 v2.2 M492.97,795.8 v2.2 M497.81,795.8 v2.2 M501.90,795.8 v2.2 M505.45,795.8 v2.2 M508.58,795.8 v2.2 M511.38,795.8 v4.2"/>
</g>
<g fill="#000" class="tx">
<g transform="translate(246.43,802.30) scale(0.2550,0.2639)"><text font-size="100" clip-path="url(#c1)" stroke="#000" stroke-width="0.8">1</text></g>
<text transform="translate(245.92,761.73) scale(1,1.035)" font-size="25.5" stroke="#000" stroke-width="0.33">2</text>
<text transform="translate(245.92,721.16) scale(1,1.035)" font-size="25.5" stroke="#000" stroke-width="0.33">3</text>
<text transform="translate(245.92,680.59) scale(1,1.035)" font-size="25.5" stroke="#000" stroke-width="0.33">4</text>
<text transform="translate(245.92,640.02) scale(1,1.035)" font-size="25.5" stroke="#000" stroke-width="0.33">5</text>
<text transform="translate(245.92,599.45) scale(1,1.035)" font-size="25.5" stroke="#000" stroke-width="0.33">6</text>
<text transform="translate(245.92,558.88) scale(1,1.035)" font-size="25.5" stroke="#000" stroke-width="0.33">7</text>
<text transform="translate(241.59,822.60) scale(1,1.035)" font-size="25.5" stroke="#000" stroke-width="0.33">0.0</text><g transform="translate(277.54,822.60) scale(0.2550,0.2639)"><text font-size="100" clip-path="url(#c1)" stroke="#000" stroke-width="0.8">1</text></g>
<text transform="translate(309.85,822.60) scale(1,1.035)" font-size="25.5" stroke="#000" stroke-width="0.33">0.</text><g transform="translate(331.62,822.60) scale(0.2550,0.2639)"><text font-size="100" clip-path="url(#c1)" stroke="#000" stroke-width="0.8">1</text></g>
<g transform="translate(382.16,822.60) scale(0.2550,0.2639)"><text font-size="100" clip-path="url(#c1)" stroke="#000" stroke-width="0.8">1</text></g>
<g transform="translate(436.24,822.60) scale(0.2550,0.2639)"><text font-size="100" clip-path="url(#c1)" stroke="#000" stroke-width="0.8">1</text></g><text transform="translate(449.91,822.60) scale(1,1.035)" font-size="25.5" stroke="#000" stroke-width="0.33">0</text>
<g transform="translate(490.32,822.60) scale(0.2550,0.2639)"><text font-size="100" clip-path="url(#c1)" stroke="#000" stroke-width="0.8">1</text></g><text transform="translate(503.99,822.60) scale(1,1.035)" font-size="25.5" stroke="#000" stroke-width="0.33">00</text>
<text transform="translate(411.60,840.90) scale(1,1.035)" font-size="33" stroke="#000" stroke-width="0.43">t</text>
<g transform="translate(227.9,717.5) rotate(-90)"><text transform="translate(0.00,0.00) scale(1,1.035)" font-size="32" stroke="#000" stroke-width="0.29">T</text><text transform="translate(19.10,12.00) scale(1,1.035)" font-size="19" stroke="#000" stroke-width="0.25">k</text><text transform="translate(37.20,0.00) scale(1,1.035)" font-size="32" stroke="#000" stroke-width="0.29">/</text><text transform="translate(55.30,0.00) scale(1,1.035)" font-size="32" stroke="#000" stroke-width="0.29">T</text><g transform="translate(73.98,12.00) scale(0.1900,0.1966)"><text font-size="100" clip-path="url(#c1)" stroke="#000" stroke-width="0.8">1</text></g></g>
</g>
</g>
</svg></body></html>
